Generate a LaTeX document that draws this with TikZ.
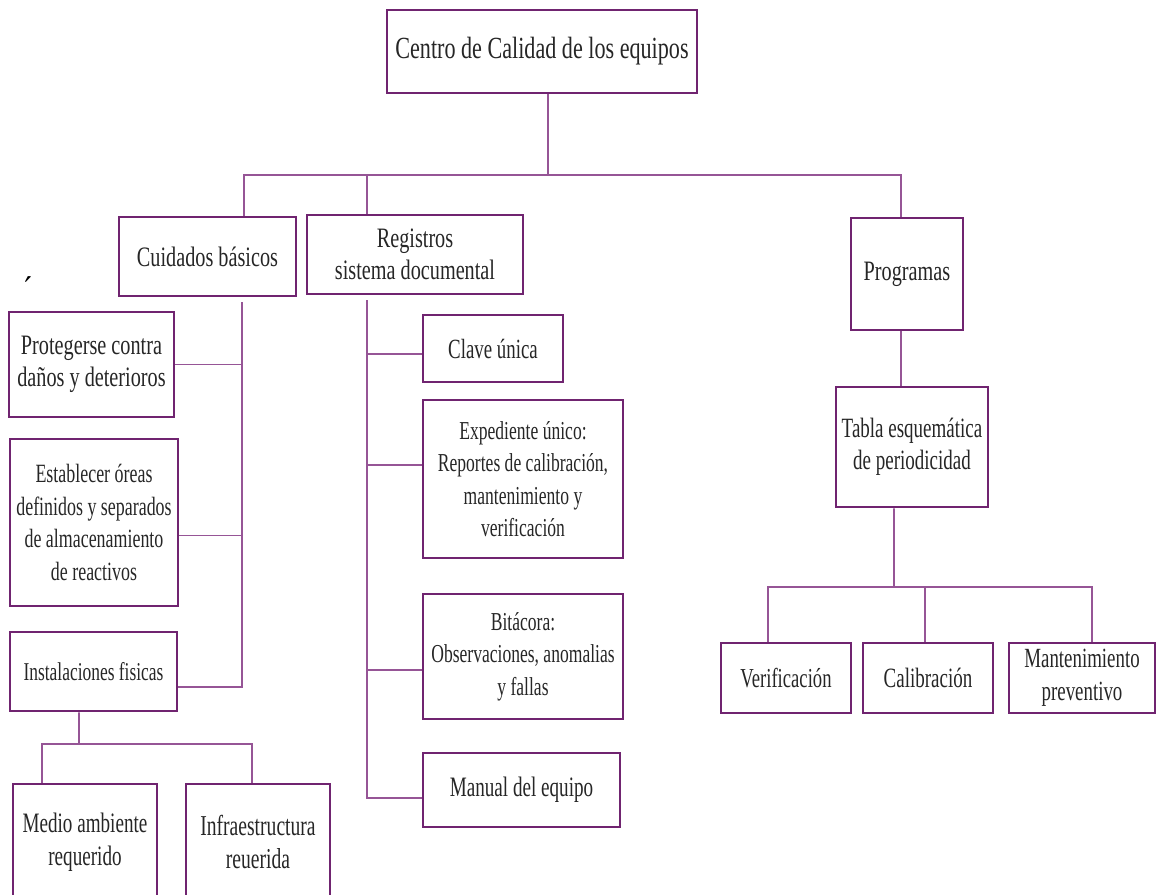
\documentclass[tikz,border=0pt]{standalone}
\usepackage{fontspec}
\setmainfont{Liberation Serif}[FakeStretch=0.72]
\newfontfamily\narrowfont{Liberation Serif}[FakeStretch=0.68]
\definecolor{boxpurple}{RGB}{112,36,112}
\definecolor{linkpurple}{RGB}{150,85,150}
\newcommand{\fs}[1]{\narrowfont\fontsize{#1}{18.5}\selectfont}
\begin{document}
\begin{tikzpicture}[x=0.02cm,y=-0.02cm,
  box node/.style={rectangle,draw=boxpurple,line width=1.6pt,align=center,inner sep=1pt,
    font=\fontsize{16}{18.5}\selectfont,text=black!85},
  link/.style={draw=linkpurple,line width=1.1pt}]
  \useasboundingbox (0,0) rectangle (1156,895);
  % top level
  \node[box node, minimum width=6.2cm, minimum height=1.66cm, font=\fontsize{17.5}{20}\selectfont] (centro) at (542,51.5) {Centro de Calidad de los equipos};
  \node[box node, minimum width=3.54cm, minimum height=1.58cm] (cuid) at (207.5,256.5) {Cuidados básicos};
  \node[box node, minimum width=4.32cm, minimum height=1.58cm] (reg) at (415,254.5) {Registros\\sistema documental};
  \node[box node, minimum width=2.24cm, minimum height=2.24cm] (prog) at (907,274) {Programas};
  \node[font=\fontsize{22}{22}\selectfont] (acento) at (28,290) {´};
  % cuidados basicos
  \node[box node, minimum width=3.3cm, minimum height=2.1cm] (prot) at (91.5,364.5) {Protegerse contra\\daños y deterioros};
  \node[box node, minimum width=3.36cm, minimum height=3.34cm, font=\fs{15}] (estab) at (94,522.5) {Establecer óreas\\definidos y separados\\de almacenamiento\\de reactivos};
  \node[box node, minimum width=3.34cm, minimum height=1.58cm, font=\fs{14.6}] (inst) at (93.5,671.5) {Instalaciones fisicas};
  \node[box node, minimum width=2.88cm, minimum height=2.32cm, font=\fs{16}] (medio) at (85,842) {Medio ambiente\\requerido};
  \node[box node, minimum width=2.88cm, minimum height=2.32cm, font=\fs{16.4}] (infra) at (258,842) {Infraestructura\\reuerida};
  % registros
  \node[box node, minimum width=2.8cm, minimum height=1.34cm, font=\fs{15.8}] (clave) at (493,348.5) {Clave única};
  \node[box node, minimum width=4cm, minimum height=3.16cm, font=\fs{14.7}] (exped) at (523,479) {Expediente único:\\Reportes de calibración,\\mantenimiento y\\verificación};
  \node[box node, minimum width=4cm, minimum height=2.5cm, font=\fs{14.7}] (bitac) at (523,656.5) {Bitácora:\\Observaciones, anomalias\\y fallas};
  \node[box node, minimum width=3.94cm, minimum height=1.48cm, font=\fs{16}] (manual) at (521.5,790) {Manual del equipo};
  % programas
  \node[box node, minimum width=3.04cm, minimum height=2.4cm, font=\fs{15.9}] (tabla) at (912,447) {Tabla esquemática\\de periodicidad};
  \node[box node, minimum width=2.6cm, minimum height=1.4cm, font=\fs{15.6}] (verif) at (786,678) {Verificación};
  \node[box node, minimum width=2.6cm, minimum height=1.4cm, font=\fs{15.9}] (calib) at (928,678) {Calibración};
  \node[box node, minimum width=2.92cm, minimum height=1.4cm, font=\fs{15.8}] (mant) at (1082,678) {Mantenimiento\\preventivo};
  % junctions
  \coordinate (hub) at (548,175);
  \coordinate (c1) at (244,175);
  \coordinate (c2) at (367,175);
  \coordinate (c3) at (901,175);
  \coordinate (vc) at (242,302);
  \coordinate (vr) at (367,300);
  \coordinate (ji) at (79,744);
  \coordinate (jt) at (894,587);
  % connectors
  \draw[link] (hub |- centro.south) -- (hub);
  \draw[link] (c1 |- cuid.north) -- (c1) -- (c3) -- (c3 |- prog.north);
  \draw[link] (c2) -- (c2 |- reg.north);
  \draw[link] (c3 |- prog.south) -- (c3 |- tabla.north);
  \draw[link] (prot.east) -| (vc);
  \draw[link] ([yshift=-0.26cm]estab.east) -| (vc);
  \draw[link] (vc) |- ([yshift=-0.31cm]inst.east);
  \draw[link] ([xshift=-0.29cm]inst.south) -- (ji);
  \draw[link] ([xshift=-0.86cm]medio.north) |- (ji) -| ([xshift=-0.12cm]infra.north);
  \draw[link] ([yshift=-0.11cm]clave.west) -| (vr);
  \draw[link] ([yshift=0.28cm]exped.west) -| (vr);
  \draw[link] ([yshift=-0.27cm]bitac.west) -| (vr);
  \draw[link] (vr) |- ([yshift=-0.16cm]manual.west);
  \draw[link] ([xshift=-0.36cm]tabla.south) -- (jt);
  \draw[link] ([xshift=-0.36cm]verif.north) |- (jt) -| ([xshift=0.2cm]mant.north);
  \draw[link] ([xshift=-0.06cm]calib.north) |- (jt);
\end{tikzpicture}
\end{document}
